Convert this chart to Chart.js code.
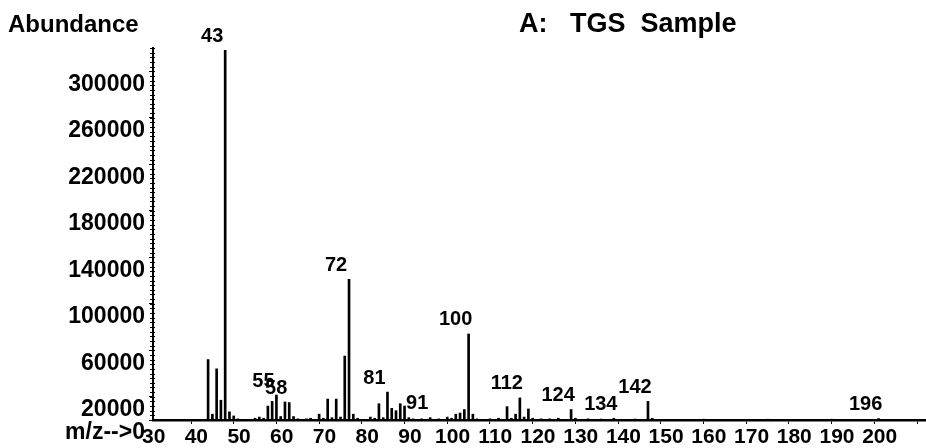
<!DOCTYPE html>
<html><head><meta charset="utf-8">
<script src="https://cdn.jsdelivr.net/npm/chart.js@4/dist/chart.umd.min.js"></script>
<style>html,body{margin:0;padding:0;background:#fff}#wrap{width:926px;height:448px}</style>
</head><body><div id="wrap"><canvas id="c" width="926" height="448"></canvas></div>
<script>
// ---- data ----
const mzValues = [39,40,41,42,43,44,45,46,
  50,51,52,53,54,55,56,57,58,59,60,
  62,63,65,66,67,68,69,70,71,72,73,74,
  77,78,79,80,81,82,83,84,85,86,87,
  89,91,93,95,96,97,98,99,100,101,102,
  105,107,109,110,111,112,113,114,115,
  117,119,121,124,125,128,131,134,139,142,143,
  148,155,162,170,178,185,190,196];
const abundance = [52000,5000,44000,17000,318000,7000,3500,1000,
  1500,2500,1500,12000,16000,21500,3000,15500,15000,3000,1000,
  1000,1500,5000,1500,18000,2000,18000,2500,55000,121000,5000,1500,
  2500,1500,14000,2000,24000,10000,8000,14000,12000,2000,1000,
  1000,2000,1000,2500,1500,5000,6000,9000,74000,5000,1000,
  1000,1500,11500,1500,5000,19000,2500,9500,1500,
  1000,1000,1500,9000,1500,1000,800,1500,800,16000,1500,
  600,700,600,700,600,700,600,1200];
const labeledPeaks = [43,55,58,72,81,91,100,112,124,134,142,196];
const yTickValues = [0,20000,60000,100000,140000,180000,220000,260000,300000];
const xTickValues = [30,40,50,60,70,80,90,100,110,120,130,140,150,160,170,180,190,200];
const yMinorStep = 4000;
const titleText = "A:   TGS  Sample";
const yAxisTitle = "Abundance";
const mzArrow = "m/z-->";

const textPlugin = {
  id: 'texts',
  afterDraw(chart) {
    const ctx = chart.ctx, xs = chart.scales.x, ys = chart.scales.y;
    ctx.save();
    // minor ticks on the abundance axis
    ctx.strokeStyle = '#000';
    ctx.lineWidth = 1;
    ctx.beginPath();
    for (let v = 0; v <= ys.max; v += yMinorStep) {
      const py = Math.round(ys.getPixelForValue(v)) + 0.5;
      ctx.moveTo(ys.right - 3, py);
      ctx.lineTo(ys.right + 2, py);
    }
    ctx.stroke();
    ctx.fillStyle = '#000';
    ctx.textBaseline = 'middle';
    ctx.textAlign = 'left';
    ctx.font = 'bold 24px "Liberation Sans", Arial, sans-serif';
    ctx.fillText(yAxisTitle, 8, 25);
    ctx.font = 'bold 27px "Liberation Sans", Arial, sans-serif';
    ctx.fillText(titleText, 519, 25);
    ctx.textAlign = 'center';
    ctx.font = 'bold 20px "Liberation Sans", Arial, sans-serif';
    labeledPeaks.forEach(m => {
      const i = mzValues.indexOf(m);
      if (i < 0) return;
      const px = xs.getPixelForValue(m), py = ys.getPixelForValue(abundance[i]);
      ctx.fillText(String(m), px - 13, py - 14);
    });
    ctx.restore();
  }
};

new Chart(document.getElementById('c'), {
  type: 'bar',
  data: { datasets: [{
    data: mzValues.map((m, i) => ({ x: m, y: abundance[i] })),
    backgroundColor: '#000', borderWidth: 0, barThickness: 2
  }]},
  options: {
    responsive: false, animation: false, devicePixelRatio: 1,
    layout: { padding: { left: 0, right: 0, top: 48, bottom: 0 } },
    plugins: { legend: { display: false }, tooltip: { enabled: false }, title: { display: false } },
    scales: {
      x: {
        type: 'linear', min: 26.1, max: 207.1, offset: false,
        grid: { display: true, drawOnChartArea: false, drawTicks: true, tickLength: 4, color: '#000', lineWidth: 1 },
        border: { display: true, color: '#000', width: 2.5 },
        afterBuildTicks: s => { s.ticks = xTickValues.map(v => ({ value: v })); },
        ticks: { color: '#000', font: { family: '"Liberation Sans", Arial', size: 21, weight: 'bold' },
                 padding: 1, labelOffset: -16, maxRotation: 0, autoSkip: false },
        afterFit: s => { s.height = 28; }
      },
      y: {
        min: 0, max: 320000,
        grid: { display: true, drawOnChartArea: false, drawTicks: true, tickLength: 4, color: '#000', lineWidth: 1 },
        border: { display: true, color: '#000', width: 2 },
        afterBuildTicks: s => { s.ticks = yTickValues.map(v => ({ value: v })); },
        ticks: { color: '#000', font: { family: '"Liberation Sans", Arial', size: 23, weight: 'bold' },
                 padding: 4, labelOffset: 13, autoSkip: false,
                 callback: v => v === 0 ? mzArrow + '0' : String(v) },
        afterFit: s => { s.width = 153; }
      }
    }
  },
  plugins: [textPlugin]
});
</script>
</body></html>
